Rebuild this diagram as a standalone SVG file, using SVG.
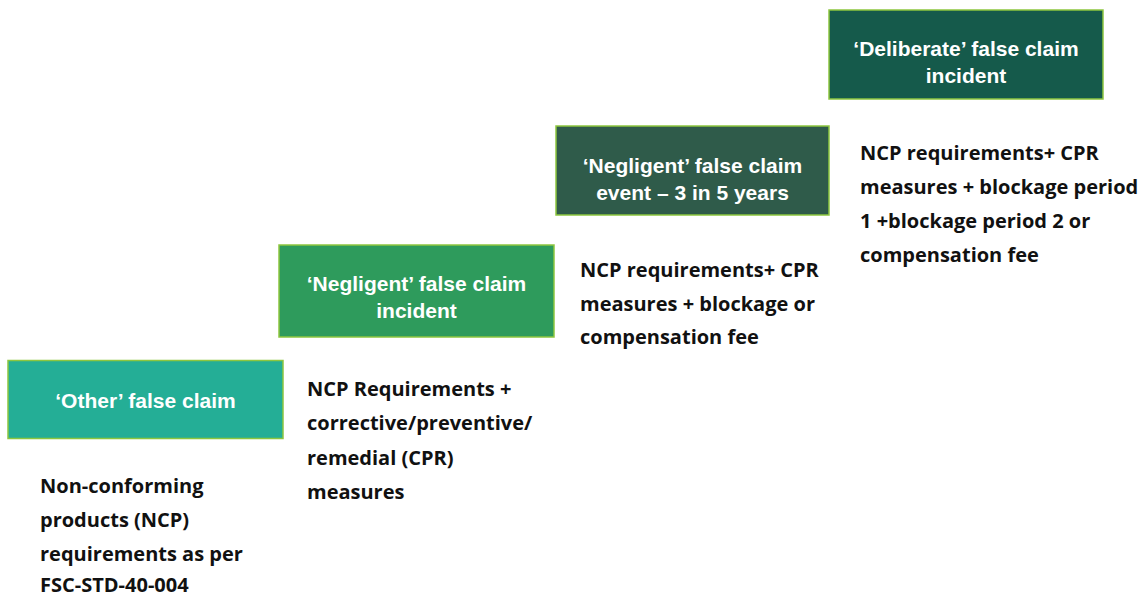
<svg xmlns="http://www.w3.org/2000/svg" width="1139" height="598" viewBox="0 0 1139 598">
<style>
.box{stroke:#8DC63F;stroke-width:1.5}
.t{font-family:"Liberation Sans",Arial,sans-serif;font-weight:700;font-size:21px;fill:#fff;text-anchor:middle}
.b{font-family:"Open Sans",Lato,sans-serif;font-weight:700;font-size:20px;fill:#111}
</style>
<rect width="1139" height="598" fill="#fff"/>
<g id="node-other">
<rect class="box" x="8" y="360.5" width="275" height="78" fill="#24AE96"/>
<text class="t" x="145.5" y="408">‘Other’ false claim</text>
</g>
<g id="node-negligent-incident">
<rect class="box" x="279" y="245" width="275" height="92" fill="#2E9B5C"/>
<text class="t" x="416.5" y="291">‘Negligent’ false claim</text>
<text class="t" x="416.5" y="318">incident</text>
</g>
<g id="node-negligent-event">
<rect class="box" x="556" y="126" width="273" height="89" fill="#2F5B4A"/>
<text class="t" x="692.5" y="173">‘Negligent’ false claim</text>
<text class="t" x="692.5" y="200">event – 3 in 5 years</text>
</g>
<g id="node-deliberate">
<rect class="box" x="829" y="10" width="274" height="89" fill="#155A4B"/>
<text class="t" x="966" y="56">‘Deliberate’ false claim</text>
<text class="t" x="966" y="83">incident</text>
</g>
<g id="desc-other">
<text class="b" x="40" y="493">Non-conforming</text>
<text class="b" x="40" y="527">products (NCP)</text>
<text class="b" x="40" y="561">requirements as per</text>
<text class="b" x="40" y="592">FSC-STD-40-004</text>
</g>
<g id="desc-negligent-incident">
<text class="b" x="307" y="396">NCP Requirements +</text>
<text class="b" x="307" y="430">corrective/preventive/</text>
<text class="b" x="307" y="465">remedial (CPR)</text>
<text class="b" x="307" y="499">measures</text>
</g>
<g id="desc-negligent-event">
<text class="b" x="580" y="277">NCP requirements+ CPR</text>
<text class="b" x="580" y="311">measures + blockage or</text>
<text class="b" x="580" y="344">compensation fee</text>
</g>
<g id="desc-deliberate">
<text class="b" x="860" y="160">NCP requirements+ CPR</text>
<text class="b" x="860" y="194">measures + blockage period</text>
<text class="b" x="860" y="228">1 +blockage period 2 or</text>
<text class="b" x="860" y="262">compensation fee</text>
</g>
<g id="connectors"></g>
</svg>
